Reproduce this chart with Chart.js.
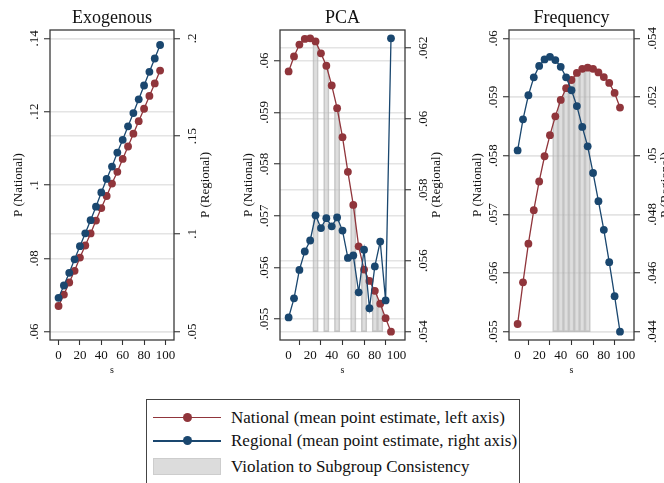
<!DOCTYPE html>
<html>
<head>
<meta charset="utf-8">
<script src="https://cdn.jsdelivr.net/npm/chart.js@4.4.1/dist/chart.umd.min.js"></script>
<style>
  html, body { margin: 0; padding: 0; background: #fff; }
  body { width: 664px; height: 483px; overflow: hidden; position: relative; font-family: "Liberation Serif", serif; color: #111; }
  canvas { position: absolute; top: 0; }
  #legend { position: absolute; left: 146px; top: 399px; width: 374px; height: 95px; border: 1px solid #444; box-sizing: border-box; }
  .row { position: absolute; left: 0; width: 100%; height: 20px; }
  .row .txt { position: absolute; left: 84px; top: 0; line-height: 20px; font-size: 17px; white-space: nowrap; }
  .row .ln { position: absolute; left: 6px; width: 68px; top: 9px; height: 1.5px; }
  .row .dot { position: absolute; left: 36px; top: 5px; width: 9px; height: 9px; border-radius: 50%; }
  .row .sw { position: absolute; left: 6px; top: 1px; width: 68px; height: 17px; background: #dcdcdc; border: 1px solid #cdcdcd; box-sizing: border-box; }
</style>
</head>
<body>
<canvas id="exo" width="222" height="380" style="left:0px"></canvas>
<canvas id="pca" width="222" height="380" style="left:222px"></canvas>
<canvas id="freq" width="240" height="380" style="left:444px"></canvas>
<div id="legend"></div>
<script>
const sValues = [0, 5, 10, 15, 20, 25, 30, 35, 40, 45, 50, 55, 60, 65, 70, 75, 80, 85, 90, 95];

const exoNational = [0.0670, 0.0701, 0.0734, 0.0766, 0.0802, 0.0835, 0.0868, 0.0903, 0.0937, 0.0970,
    0.1004, 0.1036, 0.1071, 0.1105, 0.1140, 0.1174, 0.1208, 0.1243, 0.1277, 0.1312];
const exoRegional = [0.0673, 0.0736, 0.0801, 0.0870, 0.0937, 0.1003, 0.1070, 0.1139, 0.1212, 0.1281,
    0.1344, 0.1416, 0.1481, 0.1550, 0.1618, 0.1688, 0.1759, 0.1829, 0.1897, 0.1966];

const pcaNational = [0.05979, 0.06008, 0.06031, 0.06042, 0.06043, 0.06037, 0.06014, 0.05990, 0.05952, 0.05908,
    0.05852, 0.05785, 0.05721, 0.05641, 0.05596, 0.05574, 0.05555, 0.05530, 0.05502, 0.05476];
const pcaRegional = [0.05440, 0.05494, 0.05574, 0.05626, 0.05657, 0.05728, 0.05692, 0.05720, 0.05697, 0.05722,
    0.05685, 0.05608, 0.05615, 0.05511, 0.05631, 0.05466, 0.05584, 0.05654, 0.05488, 0.06227];

const freqNational = [0.05513, 0.05584, 0.05650, 0.05707, 0.05756, 0.05799, 0.05835, 0.05867, 0.05895, 0.05915,
    0.05929, 0.05941, 0.05948, 0.05950, 0.05948, 0.05942, 0.05934, 0.05924, 0.05907, 0.05882];
const freqRegional = [0.05018, 0.05124, 0.05206, 0.05267, 0.05306, 0.05328, 0.05337, 0.05326, 0.05303, 0.05267,
    0.05223, 0.05169, 0.05098, 0.05032, 0.04941, 0.04845, 0.04747, 0.04637, 0.04521, 0.04400];

// s values where subgroup consistency is violated
const exoViolations = [];
const pcaViolations = [25, 35, 45, 60, 70, 80, 85];
const freqViolations = [35, 40, 45, 50, 55, 60, 65];

const xTicks = [0, 20, 40, 60, 80, 100];
const exoLeftTicks = [0.06, 0.08, 0.1, 0.12, 0.14];
const exoRightTicks = [0.05, 0.1, 0.15, 0.2];
const pcaLeftTicks = [0.055, 0.056, 0.057, 0.058, 0.059, 0.06];
const pcaRightTicks = [0.054, 0.056, 0.058, 0.06, 0.062];
const freqLeftTicks = [0.055, 0.056, 0.057, 0.058, 0.059, 0.06];
const freqRightTicks = [0.044, 0.046, 0.048, 0.05, 0.052, 0.054];

const panelTitles = ["Exogenous", "PCA", "Frequency"];
const leftTitle = "P (National)";
const rightTitle = "P (Regional)";
const legendLabels = [
    "National (mean point estimate, left axis)",
    "Regional (mean point estimate, right axis)",
    "Violation to Subgroup Consistency",
];

const RED = "#90353b";
const BLUE = "#1a476f";
const FONT = '"Liberation Serif", serif';

const fmt = v => String(v).replace(/^0/, "");

const stataDecor = {
    id: "stataDecor",
    afterDraw(chart, args, opts) {
        const { ctx, chartArea: a, scales } = chart;
        ctx.save();
        ctx.strokeStyle = "#3a3a3a";
        ctx.lineWidth = 1.3;
        ctx.strokeRect(a.left, a.top, a.right - a.left, a.bottom - a.top);

        ctx.fillStyle = "#111";
        ctx.font = "18px " + FONT;
        ctx.textAlign = "center";
        ctx.textBaseline = "alphabetic";
        ctx.fillText(opts.title, (a.left + a.right) / 2, 23);

        const up = (text, x, y) => {
            ctx.save();
            ctx.translate(x, y);
            ctx.rotate(-Math.PI / 2);
            ctx.font = "13px " + FONT;
            ctx.textAlign = "center";
            ctx.textBaseline = "alphabetic";
            ctx.fillText(text, 0, 0);
            ctx.restore();
        };
        opts.leftTicks.forEach(v => up(fmt(v), a.left - 12.3, scales.y.getPixelForValue(v)));
        opts.rightTicks.forEach(v => up(fmt(v), a.right + 21.7, scales.y1.getPixelForValue(v)));
        const midY = (a.top + a.bottom) / 2;
        up(leftTitle, a.left - 28, midY);
        up(rightTitle, a.right + 34.7, midY);
        ctx.restore();
    },
};

function yScale(position, ticks, values, width) {
    const lo = Math.min(...ticks, ...values);
    const hi = Math.max(...ticks, ...values);
    const pad = (hi - lo) * 0.0285;
    return {
        type: "linear",
        position: position,
        bounds: "data",
        min: lo - pad,
        max: hi + pad,
        afterBuildTicks: s => { s.ticks = ticks.map(v => ({ value: v })); },
        afterFit: s => { s.width = width; s.paddingTop = 0; s.paddingBottom = 0; },
        ticks: { display: false },
        border: { display: false },
        grid: { color: "#e4e4e4", lineWidth: 1.5, drawTicks: true, tickLength: 6, tickColor: "#333", tickWidth: 1.1 },
    };
}

function makePanel(id, title, national, regional, violations, leftTicks, rightTicks, leftW, rightW) {
    const leftLo = Math.min(...leftTicks, ...national);
    const datasets = [];
    if (violations.length) {
        datasets.push({
            type: "bar",
            data: violations.map(s => ({ x: s, y: [leftLo, national[sValues.indexOf(s)]] })),
            yAxisID: "y",
            backgroundColor: "rgba(200,200,200,0.6)",
            borderColor: "rgba(175,175,175,0.7)",
            borderWidth: 1,
            borderSkipped: false,
            barPercentage: 1,
            categoryPercentage: 1,
            order: 3,
        });
    }
    datasets.push({
        label: "National",
        data: sValues.map((s, i) => ({ x: s, y: national[i] })),
        yAxisID: "y",
        borderColor: RED,
        backgroundColor: RED,
        borderWidth: 1.3,
        pointRadius: 3.9,
        pointBorderWidth: 0,
        order: 2,
    });
    datasets.push({
        label: "Regional",
        data: sValues.map((s, i) => ({ x: s, y: regional[i] })),
        yAxisID: "y1",
        borderColor: BLUE,
        backgroundColor: BLUE,
        borderWidth: 1.3,
        pointRadius: 3.9,
        pointBorderWidth: 0,
        order: 1,
    });

    new Chart(document.getElementById(id), {
        type: "line",
        data: { datasets: datasets },
        options: {
            responsive: false,
            animation: false,
            layout: { padding: { top: 30, left: 0, right: 0, bottom: 0 } },
            plugins: {
                legend: { display: false },
                tooltip: { enabled: false },
                stataDecor: { title: title, leftTicks: leftTicks, rightTicks: rightTicks },
            },
            scales: {
                x: {
                    type: "linear",
                    bounds: "data",
                    min: -8,
                    max: 108,
                    offset: false,
                    afterBuildTicks: s => { s.ticks = xTicks.map(v => ({ value: v })); },
                    afterFit: s => { s.height = 40; s.paddingLeft = 0; s.paddingRight = 0; },
                    border: { display: false },
                    grid: { drawOnChartArea: false, drawTicks: true, tickLength: 5, tickColor: "#333", tickWidth: 1.1 },
                    ticks: { color: "#111", font: { family: FONT, size: 13 }, padding: 3, maxRotation: 0, autoSkip: false },
                    title: { display: true, text: "s", color: "#111", font: { family: FONT, size: 10 }, padding: { top: 0, bottom: 4 } },
                },
                y: yScale("left", leftTicks, national, leftW),
                y1: yScale("right", rightTicks, regional, rightW),
            },
        },
        plugins: [stataDecor],
    });
}

makePanel("exo", panelTitles[0], exoNational, exoRegional, exoViolations, exoLeftTicks, exoRightTicks, 50, 48);
makePanel("pca", panelTitles[1], pcaNational, pcaRegional, pcaViolations, pcaLeftTicks, pcaRightTicks, 58, 39);
makePanel("freq", panelTitles[2], freqNational, freqRegional, freqViolations, freqLeftTicks, freqRightTicks, 65, 50);

// legend
const legend = document.getElementById("legend");
const rowCenters = [17.5, 41, 67];
const symbols = [RED, BLUE, null];
legendLabels.forEach((label, i) => {
    const row = document.createElement("div");
    row.className = "row";
    row.style.top = (rowCenters[i] - 10) + "px";
    if (symbols[i]) {
        row.innerHTML = '<div class="ln" style="background:' + symbols[i] + '"></div>' +
            '<div class="dot" style="background:' + symbols[i] + '"></div>';
    } else {
        row.innerHTML = '<div class="sw"></div>';
    }
    const t = document.createElement("span");
    t.className = "txt";
    t.textContent = label;
    row.appendChild(t);
    legend.appendChild(row);
});
</script>
</body>
</html>
